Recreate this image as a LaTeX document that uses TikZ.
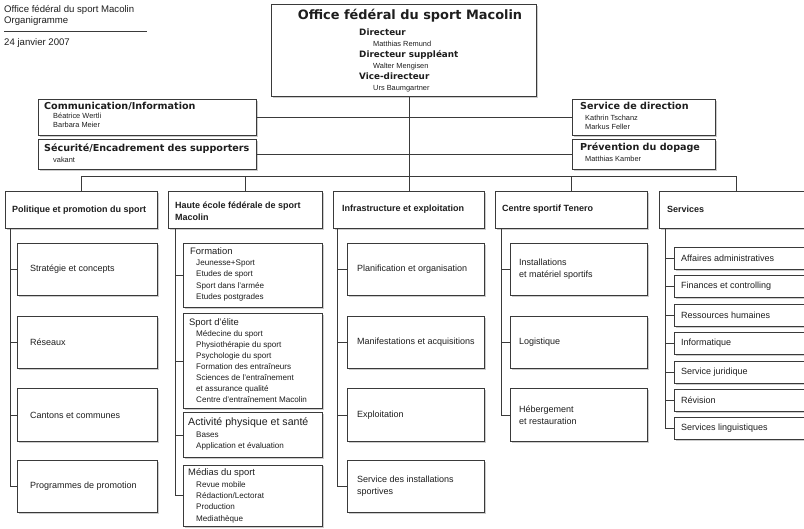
\documentclass[tikz,border=0pt]{standalone}
\usepackage{fontspec}
\setmainfont{Liberation Sans}
\newfontfamily\wide{DejaVu Sans}
\usetikzlibrary{shadows}
\definecolor{ln}{HTML}{3A3A3A}
\definecolor{tx}{HTML}{1E1E1E}
\tikzset{
  box/.style={draw=ln, line width=0.8pt, fill=white, rectangle, inner sep=0pt, anchor=north west,
    drop shadow={shadow xshift=1.3pt, shadow yshift=-1.3pt, fill=black, opacity=0.2}},
  conn/.style={draw=ln, line width=0.8pt},
  txt/.style={anchor=west, inner sep=0pt, text=tx, text height=0.72em, text depth=0.2em},
  hdr/.style={txt, font=\fontsize{9.6}{11}\selectfont},
  nm/.style={txt, font=\fontsize{7.4}{9}\selectfont},
  it/.style={txt, font=\fontsize{8.1}{10}\selectfont},
  sub/.style={txt, font=\fontsize{9}{12}\selectfont, align=left, text height=, text depth=},
  ttl/.style={txt, font=\fontsize{9.4}{11}\selectfont},
  colh/.style={txt, font=\bfseries\fontsize{9}{12.5}\selectfont, align=left, text height=, text depth=},
  wh/.style={txt, font=\wide\bfseries\fontsize{8.8}{10}\selectfont},
  sh/.style={txt, font=\wide\bfseries\fontsize{9.6}{11}\selectfont},
}
\newcommand\bx[5]{\node[box, minimum width=#4pt, minimum height=#5pt] (#1) at (#2,#3) {};}
\begin{document}
\begin{tikzpicture}[x=1pt,y=-1pt]
\useasboundingbox (0,0) rectangle (804,528);
\clip (0,0) rectangle (804,528);
\fill[white] (0,0) rectangle (804,528);

% header
\node[hdr] (h1) at (4,10) {Office fédéral du sport Macolin};
\node[hdr] (h2) at (4,20.5) {Organigramme};
\coordinate (hl1) at (4,31.5);
\coordinate (hl2) at (147,31.5);
\draw[ln, line width=0.7pt] (hl1) -- (hl2);
\node[hdr] (h3) at (4,42.5) {24 janvier 2007};

% boxes
\bx{main}{271}{4}{265}{92}
\bx{comm}{38}{99}{218}{36}
\bx{secu}{38}{139}{218}{30}
\bx{dir}{572}{99}{143}{36}
\bx{dop}{572}{139}{143}{30}

\bx{col1}{5}{191}{152}{37}
\bx{col2}{168}{191}{154}{37}
\bx{col3}{333}{191}{151}{37}
\bx{col4}{495}{191}{152}{37}
\bx{col5}{659}{191}{153}{37}

\bx{p1}{17}{243}{140}{52}
\bx{p2}{17}{316}{140}{52}
\bx{p3}{17}{388}{140}{53}
\bx{p4}{17}{460}{140}{52}

\bx{f1}{183}{243}{139}{64}
\bx{f2}{183}{313}{139}{95}
\bx{f3}{183}{412}{139}{45}
\bx{f4}{183}{464.5}{139}{61.5}

\bx{q1}{347}{243}{137}{52}
\bx{q2}{347}{316}{137}{52}
\bx{q3}{347}{388}{137}{53}
\bx{q4}{347}{460}{137}{52}

\bx{r1}{510}{243}{137}{52}
\bx{r2}{510}{316}{137}{52}
\bx{r3}{510}{388}{137}{53}

\bx{s1}{674}{247}{140}{22}
\bx{s2}{674}{275}{140}{22}
\bx{s3}{674}{304}{140}{22}
\bx{s4}{674}{332}{140}{22}
\bx{s5}{674}{361}{140}{22}
\bx{s6}{674}{389}{140}{22}
\bx{s7}{674}{417}{140}{22}

% connectors
\coordinate (bus) at (0,176);
\draw[conn] (col3.north |- main.south) -- (col3.north);
\draw[conn] (col1.north) -- (col1.north |- bus) -- (col5.north |- bus) -- (col5.north);
\draw[conn] (col2.north) -- (col2.north |- bus);
\draw[conn] (col4.north) -- (col4.north |- bus);
\draw[conn] (comm.east) -- (comm.east -| col3.north);
\draw[conn] (secu.east) -- (secu.east -| col3.north);
\draw[conn] (dir.west) -- (dir.west -| col3.north);
\draw[conn] (dop.west) -- (dop.west -| col3.north);

\coordinate (v1) at (10,0);
\coordinate (v2) at (175,0);
\coordinate (v3) at (337,0);
\coordinate (v4) at (501,0);
\coordinate (v5) at (665,0);
\draw[conn] (col1.south -| v1) |- (p4.west);
\foreach \b in {p1,p2,p3} \draw[conn] (\b.west) -- (\b.west -| v1);
\draw[conn] (col2.south -| v2) |- (f4.west);
\foreach \b in {f1,f2,f3} \draw[conn] (\b.west) -- (\b.west -| v2);
\draw[conn] (col3.south -| v3) |- (q4.west);
\foreach \b in {q1,q2,q3} \draw[conn] (\b.west) -- (\b.west -| v3);
\draw[conn] (col4.south -| v4) |- (r3.west);
\foreach \b in {r1,r2} \draw[conn] (\b.west) -- (\b.west -| v4);
\draw[conn] (col5.south -| v5) |- (s7.west);
\foreach \b in {s1,s2,s3,s4,s5,s6} \draw[conn] (\b.west) -- (\b.west -| v5);

% main box text
\node[anchor=center, inner sep=0pt, text=tx, font=\wide\bfseries\fontsize{12.9}{14}\selectfont] (mt) at (410,16) {Office fédéral du sport Macolin};
\node[wh] (d1) at (359,33) {Directeur};
\node[nm] (d1n) at (373,43.5) {Matthias Remund};
\node[wh] (d2) at (359,55) {Directeur suppléant};
\node[nm] (d2n) at (373,65.5) {Walter Mengisen};
\node[wh] (d3) at (359,76.5) {Vice-directeur};
\node[nm] (d3n) at (373,87.5) {Urs Baumgartner};

% staff texts
\node[sh] (ct) at (44,107) {Communication/Information};
\node[nm] (cn1) at (53,116) {Béatrice Wertli};
\node[nm] (cn2) at (53,125) {Barbara Meier};
\node[sh] (st) at (44,149) {Sécurité/Encadrement des supporters};
\node[nm] (sn1) at (53,159.5) {vakant};
\node[sh] (dt) at (580,107) {Service de direction};
\node[nm] (dn1) at (585,117.5) {Kathrin Tschanz};
\node[nm] (dn2) at (585,127) {Markus Feller};
\node[sh] (pt) at (580,148) {Prévention du dopage};
\node[nm] (pn1) at (585,159) {Matthias Kamber};

% column headers
\node[colh] (c1t) at (12,210) {Politique et promotion du sport};
\node[colh] (c2t) at (175,211) {Haute école fédérale de sport\\Macolin};
\node[colh] (c3t) at (342,209.5) {Infrastructure et exploitation};
\node[colh] (c4t) at (502,209.5) {Centre sportif Tenero};
\node[colh] (c5t) at (667,209.5) {Services};

% column 1
\node[sub] (p1t) at ([xshift=13pt]p1.west) {Stratégie et concepts};
\node[sub] (p2t) at ([xshift=13pt]p2.west) {Réseaux};
\node[sub] (p3t) at ([xshift=13pt]p3.west) {Cantons et communes};
\node[sub] (p4t) at ([xshift=13pt]p4.west) {Programmes de promotion};

% column 2
\node[ttl] (f1t) at (190,251.5) {Formation};
\foreach \s [count=\i] in {Jeunesse+Sport,Etudes de sport,Sport dans l’armée,Etudes postgrades}
  \node[it] (f1i\i) at (196,{263+11.2*(\i-1)}) {\s};
\node[ttl] (f2t) at (189,323) {Sport d’élite};
\foreach \s [count=\i] in {Médecine du sport,Physiothérapie du sport,Psychologie du sport,Formation des entraîneurs,Sciences de l’entraînement,et assurance qualité,Centre d’entraînement Macolin}
  \node[it] (f2i\i) at (196,{333.5+11*(\i-1)}) {\s};
\node[txt, font=\fontsize{10.6}{12}\selectfont] (f3t) at (188,422.5) {Activité physique et santé};
\node[it] (f3i1) at (196,435) {Bases};
\node[it] (f3i2) at (196,446) {Application et évaluation};
\node[ttl] (f4t) at (188,473) {Médias du sport};
\foreach \s [count=\i] in {Revue mobile,Rédaction/Lectorat,Production,Mediathèque}
  \node[it] (f4i\i) at (196,{484.5+11.4*(\i-1)}) {\s};

% column 3
\node[sub] (q1t) at ([xshift=10pt]q1.west) {Planification et organisation};
\node[sub] (q2t) at ([xshift=10pt]q2.west) {Manifestations et acquisitions};
\node[sub] (q3t) at ([xshift=10pt]q3.west) {Exploitation};
\node[sub] (q4t) at ([xshift=10pt]q4.west) {Service des installations\\sportives};

% column 4
\node[sub] (r1t) at ([xshift=9pt]r1.west) {Installations\\et matériel sportifs};
\node[sub] (r2t) at ([xshift=9pt]r2.west) {Logistique};
\node[sub] (r3t) at ([xshift=9pt]r3.west) {Hébergement\\et restauration};

% column 5
\node[sub] (s1t) at ([xshift=7pt]s1.west) {Affaires administratives};
\node[sub] (s2t) at ([xshift=7pt]s2.west) {Finances et controlling};
\node[sub] (s3t) at ([xshift=7pt]s3.west) {Ressources humaines};
\node[sub] (s4t) at ([xshift=7pt]s4.west) {Informatique};
\node[sub] (s5t) at ([xshift=7pt]s5.west) {Service juridique};
\node[sub] (s6t) at ([xshift=7pt]s6.west) {Révision};
\node[sub] (s7t) at ([xshift=7pt]s7.west) {Services linguistiques};
\end{tikzpicture}
\end{document}
